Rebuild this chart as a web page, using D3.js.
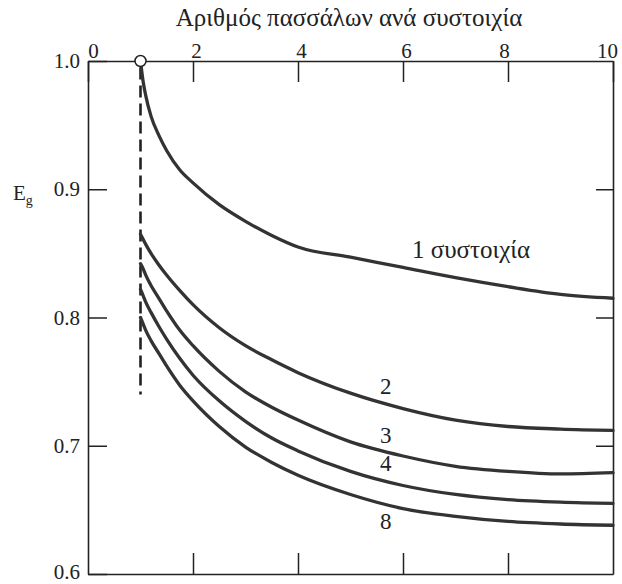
<!DOCTYPE html>
<html>
<head>
<meta charset="utf-8">
<script src="https://cdn.jsdelivr.net/npm/d3@7"></script>
<style>
  html, body { margin: 0; padding: 0; background: #fff; }
  svg { display: block; }
</style>
</head>
<body>
<svg id="chart" width="622" height="584"></svg>
<script>
// Piles per row (x) and group efficiency E_g (y)
const pilesPerRow = [1, 1.05, 1.1, 1.2, 1.35, 1.5, 1.75, 2, 2.5, 3, 3.5, 4, 5, 6, 7, 8, 9, 10];
const eff1 = [1.000, 0.984, 0.973, 0.957, 0.942, 0.930, 0.915, 0.905, 0.888, 0.875, 0.864, 0.855, 0.847, 0.839, 0.831, 0.824, 0.818, 0.815];
const eff2 = [0.865, 0.861, 0.857, 0.850, 0.841, 0.833, 0.821, 0.810, 0.792, 0.778, 0.767, 0.757, 0.741, 0.729, 0.720, 0.715, 0.713, 0.712];
const eff3 = [0.842, 0.838, 0.833, 0.825, 0.815, 0.805, 0.790, 0.778, 0.758, 0.742, 0.730, 0.720, 0.703, 0.692, 0.684, 0.680, 0.678, 0.679];
const eff4 = [0.822, 0.817, 0.812, 0.804, 0.793, 0.783, 0.768, 0.755, 0.735, 0.719, 0.706, 0.696, 0.680, 0.669, 0.662, 0.658, 0.656, 0.655];
const eff8 = [0.800, 0.795, 0.790, 0.782, 0.772, 0.762, 0.747, 0.735, 0.715, 0.699, 0.687, 0.677, 0.662, 0.651, 0.645, 0.641, 0.639, 0.638];
const rowLabels = ["1 συστοιχία", "2", "3", "4", "8"];
// label anchor: [piles per row, efficiency]
const labelPos = [[6.17, 0.8464], [5.67, 0.7405], [5.67, 0.7020], [5.67, 0.6805], [5.67, 0.6350]];
const xTicks = [0, 2, 4, 6, 8, 10];
const yTicks = [0.6, 0.7, 0.8, 0.9, 1.0];
const xTitle = "Αριθμός πασσάλων ανά συστοιχία";
const dashedFrom = 0.995, dashedTo = 0.74;

const serif = "'Liberation Serif', 'DejaVu Serif', 'Times New Roman', Tinos, serif";
const svg = d3.select("#chart");
const mLeft = 88, mRight = 613, mTop = 61, mBottom = 574;
const x = d3.scaleLinear().domain([0, 10]).range([mLeft, mRight]);
const y = d3.scaleLinear().domain([0.6, 1.0]).range([mBottom, mTop]);

const axisStyle = g => {
  g.attr("font-family", null);
  g.selectAll(".domain").attr("stroke", "#222").attr("stroke-width", 1.6);
  g.selectAll(".tick line").attr("stroke", "#222").attr("stroke-width", 1.5);
  g.selectAll(".tick text").attr("fill", "#222")
    .style("font-family", serif).style("font-size", "21px");
};

// top axis with labels, ticks pointing into the plot
svg.append("g").attr("transform", `translate(0,${mTop})`)
  .call(d3.axisTop(x).tickValues(xTicks).tickSizeInner(-21).tickSizeOuter(0).tickPadding(3)
    .tickFormat(d3.format("d")))
  .call(axisStyle)
  .call(g => g.selectAll(".tick text").attr("dx", (d) => d === 0 ? 5 : (d === 10 ? -6 : (d >= 8 ? -4 : 3))));

// bottom axis: ticks only
svg.append("g").attr("transform", `translate(0,${mBottom})`)
  .call(d3.axisBottom(x).tickValues([2, 4, 6, 8]).tickSizeInner(-21).tickSizeOuter(0).tickFormat(""))
  .call(axisStyle);

// left axis with labels
svg.append("g").attr("transform", `translate(${mLeft},0)`)
  .call(d3.axisLeft(y).tickValues(yTicks).tickSizeInner(-19).tickSizeOuter(0).tickPadding(8)
    .tickFormat(d3.format(".1f")))
  .call(axisStyle)
  .call(g => g.selectAll(".tick text").attr("dy", d => d < 0.65 ? "0.2em" : "0.32em"));

// right axis: ticks only
svg.append("g").attr("transform", `translate(${mRight},0)`)
  .call(d3.axisRight(y).tickValues([0.7, 0.8, 0.9]).tickSizeInner(-17).tickSizeOuter(0).tickFormat(""))
  .call(axisStyle);

// axis titles
svg.append("text").attr("x", 349).attr("y", 26)
  .attr("text-anchor", "middle").attr("fill", "#222")
  .style("font-family", serif).style("font-size", "25px").text(xTitle);

const eg = svg.append("text").attr("x", 13).attr("y", 200).attr("fill", "#222")
  .style("font-family", serif).style("font-size", "21px");
eg.append("tspan").text("E");
eg.append("tspan").style("font-size", "14px").attr("dy", 5).text("g");

// dashed line at one pile per row
svg.append("line")
  .attr("x1", x(1)).attr("x2", x(1))
  .attr("y1", y(dashedFrom)).attr("y2", y(dashedTo))
  .attr("stroke", "#222").attr("stroke-width", 2.6)
  .attr("stroke-dasharray", "12,6");

// efficiency curves
const series = [eff1, eff2, eff3, eff4, eff8];
const line = d3.line()
  .x((d, i) => x(pilesPerRow[i]))
  .y(d => y(d))
  .curve(d3.curveMonotoneX);

svg.append("g").selectAll("path").data(series).join("path")
  .attr("d", d => line(d))
  .attr("fill", "none").attr("stroke", "#333").attr("stroke-width", 3.3)
  .attr("stroke-linecap", "round");

// open circle at the single-pile point
svg.append("circle").attr("cx", x(1)).attr("cy", y(1.0)).attr("r", 5.5)
  .attr("fill", "#fff").attr("stroke", "#222").attr("stroke-width", 1.5);

// row count labels
svg.append("g").selectAll("text").data(rowLabels).join("text")
  .attr("x", (d, i) => x(labelPos[i][0]))
  .attr("y", (d, i) => y(labelPos[i][1]))
  .attr("text-anchor", (d, i) => i === 0 ? "start" : "middle")
  .attr("fill", "#222")
  .style("font-family", serif).style("font-size", (d, i) => i === 0 ? "25px" : "23px")
  .text(d => d);
</script>
</body>
</html>
